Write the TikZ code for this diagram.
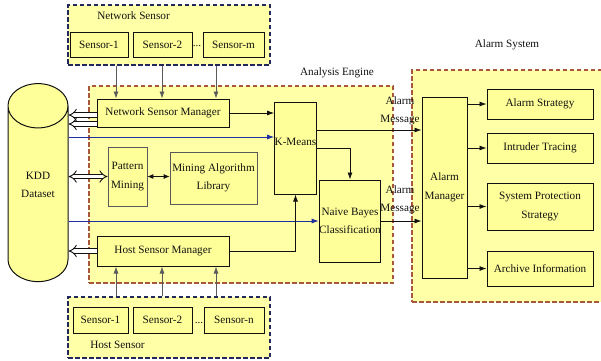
\documentclass[tikz,border=0pt]{standalone}
\usepackage{fontspec}
\setmainfont{Liberation Serif}
\usetikzlibrary{arrows.meta,shapes.geometric}
\definecolor{ink}{HTML}{111111}
\definecolor{zonefill}{HTML}{FFFFA8}
\definecolor{boxfill}{HTML}{FFFF99}
\definecolor{sensorline}{HTML}{23285A}
\definecolor{engineline}{HTML}{A8573A}
\definecolor{feedline}{HTML}{5A5A5A}
\definecolor{linkblue}{HTML}{1F2FA0}
\newcommand{\eleven}{\fontsize{11.2}{18.5}\selectfont}
\tikzset{
 every node/.append style={font=\eleven,text=ink,align=center},
 box/.style={draw=ink,fill=boxfill,line width=1pt,inner sep=1pt},
 thinbox/.style={box,draw=feedline,line width=.7pt},
 zone/.style={fill=zonefill,dash pattern=on 4.5pt off 2.5pt,line width=1.3pt,inner sep=0pt},
 sensorzone/.style={zone,draw=sensorline},
 enginezone/.style={zone,draw=engineline,line width=1.1pt},
 title/.style={inner sep=1pt},
 flow/.style={-{Latex[length=7pt,width=5pt]},draw=ink,line width=.8pt},
 feed/.style={flow,draw=feedline},
 datalink/.style={-{Latex[length=7pt,width=5pt]},draw=linkblue,line width=.8pt},
 hollow/.style={-{Implies[scale=1.3]},draw=ink,double=white,double distance=3.4pt,line width=.9pt},
}

\begin{document}
\begin{tikzpicture}[x=1pt,y=-1pt]

\useasboundingbox (0,0) rectangle (601,360);
% zones
\node[sensorzone,minimum width=202pt,minimum height=60pt] (netzone) at (169,35) {};
\node[sensorzone,minimum width=202pt,minimum height=61pt] (hostzone) at (169,327.5) {};
\node[enginezone,minimum width=304pt,minimum height=197pt] (engine) at (241,184.5) {};
\node[enginezone,minimum width=210pt,minimum height=232pt] (alarmzone) at (517,186) {};
\node[title] at (133.5,16) {Network Sensor};
\node[title] at (117.5,345) {Host Sensor};
\node[title] at (337,73) {Analysis Engine};
\node[title] at (507,45) {Alarm System};
% sensors
\node[box,minimum width=58pt,minimum height=25pt] (netone) at (99,44.5) {Sensor-1};
\node[box,minimum width=59pt,minimum height=25pt] (nettwo) at (162.5,44.5) {Sensor-2};
\node[title] (netdots) at (197,46) {...};
\node[box,minimum width=61pt,minimum height=25pt] (netm) at (233.5,44.5) {Sensor-m};
\node[box,minimum width=55pt,minimum height=26pt] (hostone) at (100.5,320) {Sensor-1};
\node[box,minimum width=59pt,minimum height=26pt] (hosttwo) at (162.5,320) {Sensor-2};
\node[title] (hostdots) at (199,323) {...};
\node[box,minimum width=60pt,minimum height=26pt] (hostn) at (234,320) {Sensor-n};
% dataset and engine
\node[cylinder,shape border rotate=90,aspect=1.1,draw=ink,fill=boxfill,line width=1pt,minimum height=198pt,minimum width=60pt,text depth=28pt] (kdd) at (38,199) {KDD\\Dataset};
\node[box,minimum width=132pt,minimum height=28pt] (nsm) at (163,113) {Network Sensor Manager};
\node[box,minimum width=132pt,minimum height=30pt] (hsm) at (163,251) {Host Sensor Manager};
\node[thinbox,minimum width=39pt,minimum height=59pt] (pattern) at (127.5,176.5) {Pattern\\Mining};
\node[thinbox,minimum width=87pt,minimum height=52pt] (library) at (213.5,178) {Mining Algorithm\\Library};
\node[box,minimum width=39pt,minimum height=92pt,inner sep=0pt,text depth=12pt] (kmeans) at (295.5,148) {K-Means};
\node[box,minimum width=52pt,minimum height=82pt,inner sep=0pt] (naive) at (350,221) {Naive Bayes\\Classification};
% alarm system
\node[box,minimum width=45pt,minimum height=181pt] (manager) at (444.5,187.5) {Alarm\\Manager};
\node[box,minimum width=106pt,minimum height=30pt] (strategy) at (540,104) {Alarm Strategy};
\node[box,minimum width=106pt,minimum height=30pt] (tracing) at (540,148) {Intruder Tracing};
\node[box,minimum width=106pt,minimum height=47pt] (protection) at (540,206.5) {System Protection\\Strategy};
\node[box,minimum width=106pt,minimum height=35pt] (archive) at (540,268.5) {Archive Information};
\node[title] (msgone) at (400,111) {Alarm\\Message};
\node[title] (msgtwo) at (400,200) {Alarm\\Message};
% connectors
\foreach \x in {116,162,216} {
 \draw[feed] (\x,0 |- netzone.south) -- (\x,0 |- nsm.north);
 \draw[feed] (\x,0 |- hostzone.north) -- (\x,0 |- hsm.south);
}
\draw[hollow] (nsm.west |- 0,115) -- (kdd.east |- 0,115);
\draw[hollow] (nsm.west |- 0,124) -- (kdd.east |- 0,124);
\draw[hollow] (hsm.west) -- (hsm.west -| kdd.east);
\draw[hollow,{Implies[scale=1.3]}-{Implies[scale=1.3]}] (pattern.west) -- (pattern.west -| kdd.east);
\draw[flow,{Latex[length=6pt,width=5pt]}-{Latex[length=6pt,width=5pt]}] (pattern.east) -- (pattern.east -| library.west);
\draw[datalink] (kdd.east |- 0,137) -- (kmeans.west |- 0,137);
\draw[datalink] (kdd.east |- naive.west) -- (naive.west);
\draw[flow] (nsm.east) -- (nsm.east -| kmeans.west);
\draw[flow] (hsm.east) -| (kmeans.south);
\draw[flow] (kmeans.east) -| (naive.north);
\draw[flow] (kmeans.east |- 0,130) -- (manager.west |- 0,130);
\draw[flow] (naive.east) -- (naive.east -| manager.west);
\foreach \b in {strategy,tracing,protection,archive}
 \draw[flow] (manager.east |- \b.west) -- (\b.west);

\end{tikzpicture}
\end{document}
